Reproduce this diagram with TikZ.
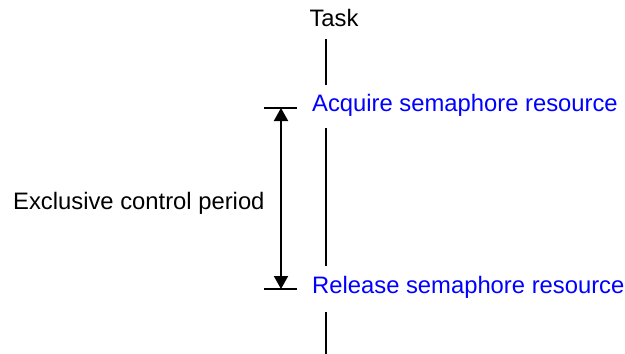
\documentclass[tikz,border=0pt]{standalone}
\usepackage{fontspec}
\setmainfont{Liberation Sans}
\usetikzlibrary{arrows.meta}
\definecolor{evblue}{RGB}{0,0,255}
\tikzset{
  lbl/.style={inner sep=0pt, anchor=base west, font=\fontsize{23.8}{28}\selectfont},
  evlbl/.style={lbl, text=evblue},
  taskline/.style={line width=2pt},
  tick/.style={line width=2pt},
  period/.style={line width=2pt, {Triangle[width=14pt,length=13pt]}-{Triangle[width=14pt,length=13pt]}, shorten <=0pt, shorten >=0pt}
}
\begin{document}
\begin{tikzpicture}[x=1pt,y=-1pt]
\useasboundingbox (0,0) rectangle (625,354);
\node[lbl, anchor=base] (task) at (334,26) {Task};
\node[evlbl] (acq) at (312,111) {Acquire semaphore resource};
\node[evlbl] (rel) at (312,293) {Release semaphore resource};
\node[lbl] (excl) at (13,209) {Exclusive control period};
\coordinate (t1) at (326,39);
\coordinate (t2) at (326,85);
\coordinate (a1) at (326,128);
\coordinate (a2) at (326,266);
\coordinate (r1) at (326,312);
\coordinate (r2) at (326,354);
\draw[taskline] (t1) -- (t2);
\draw[taskline] (a1) -- (a2);
\draw[taskline] (r1) -- (r2);
\coordinate (ka) at (264,108);
\coordinate (kb) at (297,108);
\coordinate (kc) at (264,289);
\coordinate (kd) at (297,289);
\draw[tick] (ka) -- (kb);
\draw[tick] (kc) -- (kd);
\coordinate (pa) at (281,108);
\coordinate (pb) at (281,289);
\draw[period] (pa) -- (pb);
\end{tikzpicture}
\end{document}
